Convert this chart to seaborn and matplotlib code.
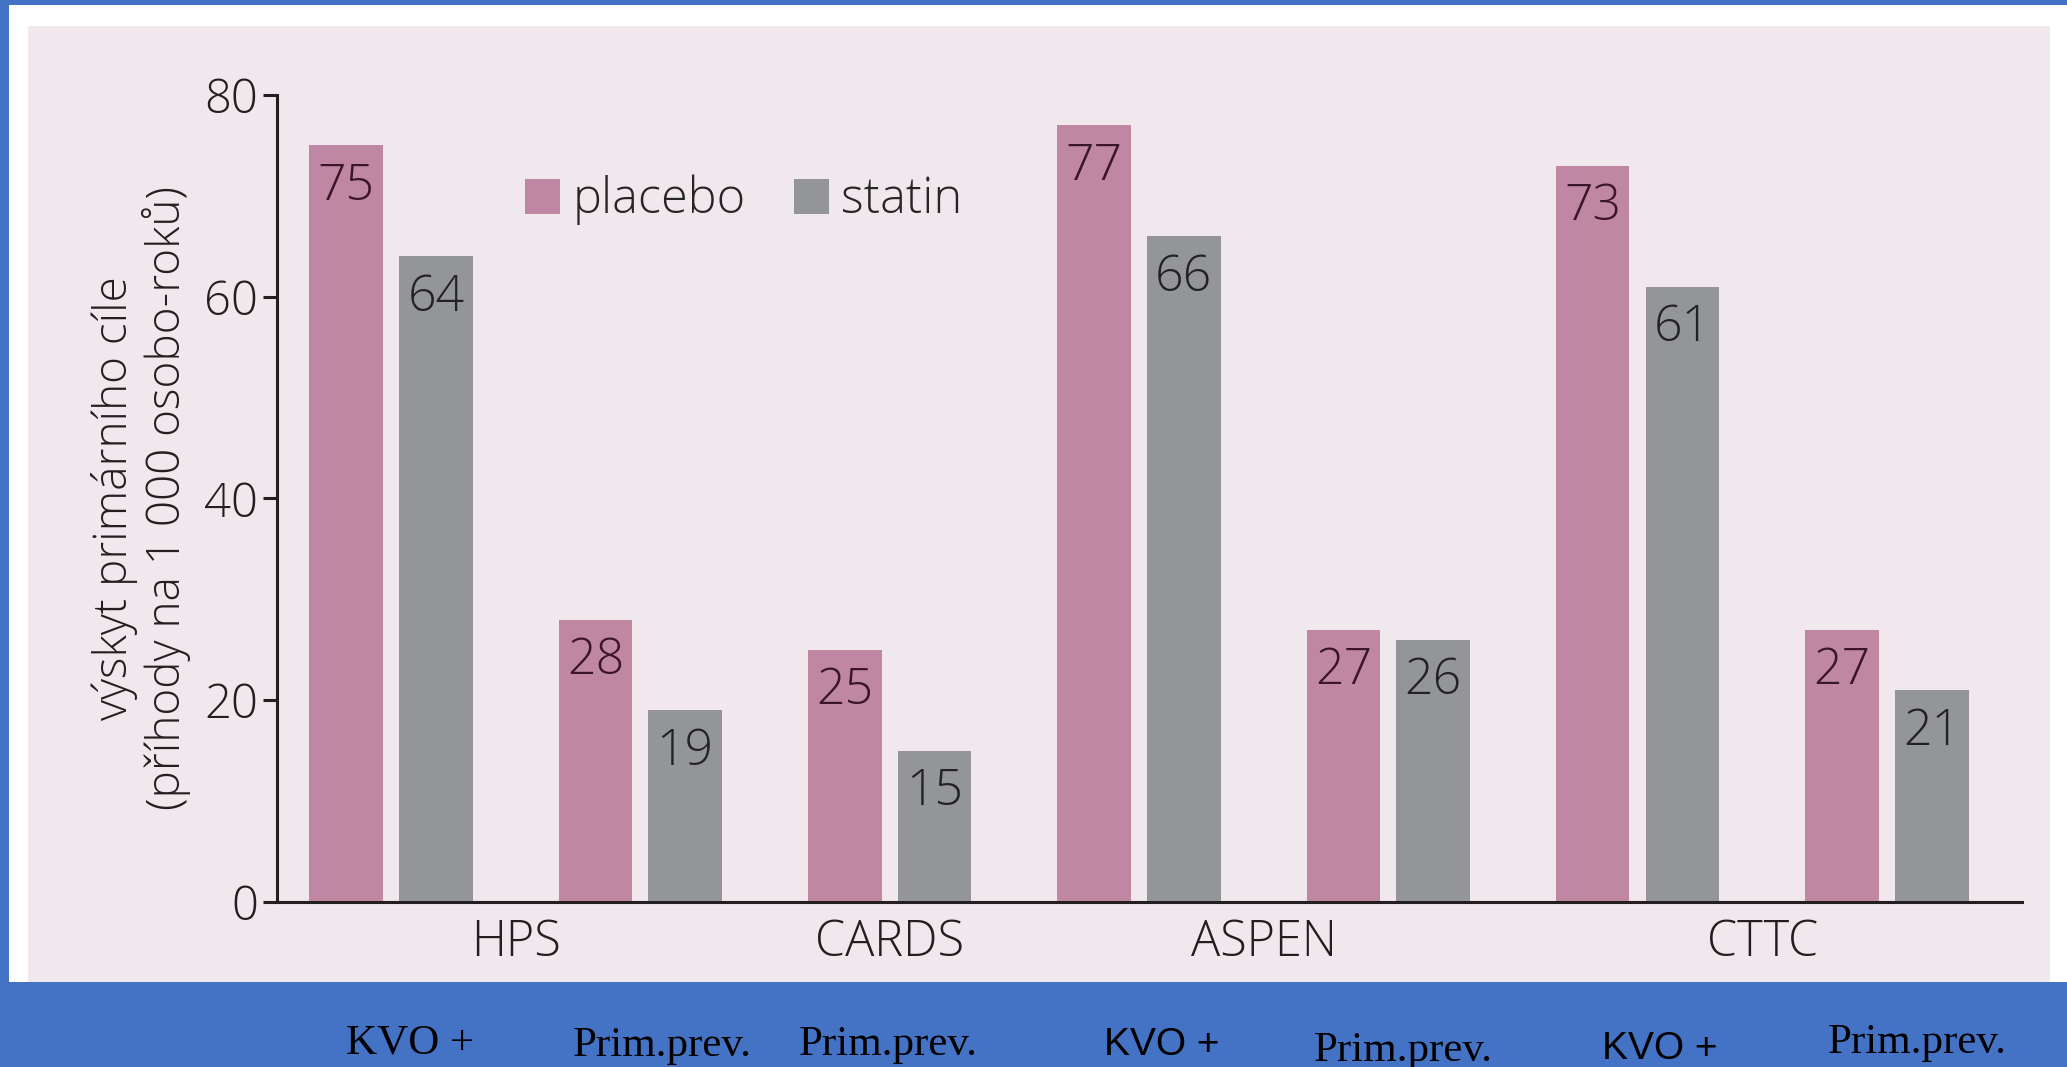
import matplotlib
matplotlib.use("Agg")
import matplotlib.pyplot as plt
import numpy as np
import pandas as pd
import seaborn as sns
from matplotlib.patches import Rectangle
from matplotlib import transforms

# --- data -------------------------------------------------------------
studie = ["HPS", "HPS", "CARDS", "ASPEN", "ASPEN", "CTTC", "CTTC"]
populace = ["KVO +", "Prim.prev.", "Prim.prev.", "KVO +", "Prim.prev.", "KVO +", "Prim.prev."]
placebo = [75, 28, 25, 77, 27, 73, 27]
statin = [64, 19, 15, 66, 26, 61, 21]
lecba = ["placebo", "statin"]
y_ticks = [0, 20, 40, 60, 80]
y_popis = "výskyt primárního cíle\n(příhody na 1 000 osobo-roků)"

# --- style ------------------------------------------------------------
MODRA = "#4472C4"
PODKLAD = "#F1E8EE"
RUZOVA = "#C087A3"
SEDA = "#939598"
TEXT = "#231F20"

sns.set_theme(style="white")
plt.rcParams["font.family"] = ["Open Sans", "DejaVu Sans"]
plt.rcParams["font.weight"] = "light"

W, H, DPI = 2067, 1067, 100
fig = plt.figure(figsize=(W / DPI, H / DPI), dpi=DPI)
fig.patch.set_facecolor(MODRA)
fig.patches.append(Rectangle((9 / W, 1 - 982 / H), (W - 9) / W, (982 - 5) / H,
                             transform=fig.transFigure, facecolor="white",
                             edgecolor="none", zorder=-3))
fig.patches.append(Rectangle((28 / W, 1 - 982 / H), (2050 - 28) / W, (982 - 26) / H,
                             transform=fig.transFigure, facecolor=PODKLAD,
                             edgecolor="none", zorder=-2))

ax = fig.add_axes([277 / W, 1 - 902 / H, (2022 - 277) / W, (902 - 95) / H])
ax.set_facecolor("none")

skupina = list(range(len(placebo)))
df = pd.DataFrame({
    "skupina": skupina * 2,
    "léčba": [lecba[0]] * len(placebo) + [lecba[1]] * len(statin),
    "hodnota": placebo + statin,
})

sns.barplot(data=df, x="skupina", y="hodnota", hue="léčba", hue_order=lecba,
            palette=[RUZOVA, SEDA], saturation=1, width=0.72, gap=0.18,
            errorbar=None, linewidth=0, edgecolor="none", ax=ax)

ax.set_xlim(-0.457, 6.542)
ax.set_ylim(0, 80)
ax.set_yticks(y_ticks)

# trial names centred under their groups
nazvy = list(dict.fromkeys(studie))
pozice = [float(np.mean([i for i, s in enumerate(studie) if s == n])) for n in nazvy]
ax.set_xticks(pozice, labels=nazvy)

sns.despine(ax=ax)
for side in ("left", "bottom"):
    ax.spines[side].set_linewidth(2.2)
    ax.spines[side].set_color(TEXT)
ax.tick_params(axis="y", length=10, width=2.2, pad=3.6, labelsize=34,
               colors=TEXT, direction="out", left=True)
ax.tick_params(axis="x", length=0, pad=11.5, labelsize=35, colors=TEXT)
for t in ax.get_xticklabels() + ax.get_yticklabels():
    t.set_fontweight("light")

ax.set_xlabel("")
ax.set_ylabel(y_popis, fontsize=33, linespacing=1.12, color=TEXT,
              fontweight="light")
ax.yaxis.set_label_coords(-0.049, 0.5)

# values written inside the top of each bar
barvy_popisku = ["#3B1528", "#222222"]
for cont, hodnoty, barva in zip(ax.containers, [placebo, statin], barvy_popisku):
    texty = ax.bar_label(cont, labels=[str(v) for v in hodnoty], padding=-12,
                         fontsize=36, color=barva, fontweight="light")
    for t in texty:
        t.set_va("top")

# legend
handles, labels = ax.get_legend_handles_labels()
ax.legend(handles, labels, loc="center left",
          bbox_to_anchor=(501 / W, 1 - 200 / H), bbox_transform=fig.transFigure,
          ncol=2, frameon=False, borderpad=0,
          handlelength=0.72, handleheight=0.72, handletextpad=0.25,
          columnspacing=1.0, prop={"weight": "light", "size": 35})

# population descriptions in the blue band
pismo = ["Liberation Serif", "Liberation Serif", "Liberation Serif",
         "Liberation Sans", "Liberation Serif", "Liberation Sans", "Liberation Serif"]
velikost = [31, 31, 31, 28, 31, 28, 31]
posun_x = [0.076, 0.088, -0.004, 0.092, 0.06, 0.088, 0.12]
uctaria = [1053, 1056, 1055, 1055, 1061, 1059, 1053]
trans = transforms.blended_transform_factory(ax.transData, fig.transFigure)
for i, txt in enumerate(populace):
    fig.text(i + posun_x[i], 1 - uctaria[i] / H, txt, transform=trans,
             ha="center", va="baseline", fontsize=velikost[i],
             family=[pismo[i], "DejaVu Sans"], color="black")

fig.savefig("out.png", dpi=DPI, facecolor=fig.get_facecolor())
